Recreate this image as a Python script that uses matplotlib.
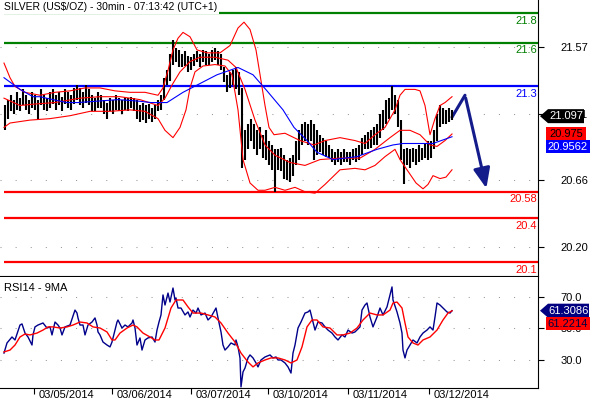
import numpy as np
import matplotlib
matplotlib.use('Agg')
import matplotlib.pyplot as plt
from matplotlib.patches import Polygon
from matplotlib.transforms import IdentityTransform, ScaledTranslation

plt.rcParams['font.family'] = ['Liberation Sans', 'DejaVu Sans']

# time axis: one unit ~ 18 minutes, day ticks where the dates are printed
day_pos = [34, 112, 191, 268, 348, 429]
day_labels = ['03/05/2014', '03/06/2014', '03/07/2014', '03/10/2014', '03/11/2014', '03/12/2014']

# price bars (high / low)
bar_t = np.arange(5, 453, 3)
bar_high = [21.17, 21.21, 21.24, 21.21, 21.26, 21.22, 21.28, 21.24, 21.21, 21.26,
            21.24, 21.21, 21.28, 21.24, 21.22, 21.26, 21.28, 21.24, 21.26, 21.23,
            21.28, 21.26, 21.24, 21.29, 21.31, 21.29, 21.26, 21.31, 21.28, 21.24,
            21.22, 21.26, 21.24, 21.21, 21.19, 21.22, 21.21, 21.24, 21.22, 21.21,
            21.23, 21.22, 21.23, 21.22, 21.21, 21.17, 21.19, 21.17, 21.18, 21.15,
            21.17, 21.21, 21.24, 21.36, 21.41, 21.52, 21.62, 21.56, 21.55, 21.52,
            21.54, 21.51, 21.50, 21.52, 21.54, 21.52, 21.55, 21.54, 21.52, 21.55,
            21.56, 21.54, 21.52, 21.43, 21.38, 21.40, 21.41, 21.43, 21.40, 21.29,
            21.00, 21.04, 21.08, 21.04, 21.00, 21.02, 20.97, 21.00, 20.93, 20.90,
            20.87, 20.87, 20.88, 20.83, 20.80, 20.81, 20.83, 20.93, 21.00, 21.04,
            21.06, 21.04, 21.07, 21.04, 21.00, 20.97, 20.95, 20.93, 20.90, 20.87,
            20.85, 20.87, 20.85, 20.87, 20.85, 20.85, 20.87, 20.88, 20.90, 20.95,
            20.97, 20.99, 21.00, 21.02, 21.04, 21.11, 21.14, 21.21, 21.22, 21.30,
            21.24, 21.21, 21.07, 20.87, 20.88, 20.87, 20.88, 20.87, 20.90, 20.88,
            20.91, 20.93, 20.93, 21.00, 21.11, 21.17, 21.15, 21.14, 21.15, 21.14]
bar_low = [21.00, 21.08, 21.13, 21.11, 21.14, 21.13, 21.17, 21.14, 21.11, 21.15,
           21.14, 21.08, 21.17, 21.14, 21.13, 21.15, 21.18, 21.14, 21.17, 21.13,
           21.18, 21.15, 21.14, 21.18, 21.21, 21.17, 21.15, 21.19, 21.17, 21.13,
           21.13, 21.15, 21.15, 21.11, 21.08, 21.13, 21.11, 21.14, 21.13, 21.11,
           21.14, 21.13, 21.15, 21.13, 21.08, 21.06, 21.07, 21.05, 21.08, 21.06,
           21.08, 21.13, 21.14, 21.21, 21.31, 21.34, 21.45, 21.47, 21.43, 21.43,
           21.44, 21.40, 21.41, 21.44, 21.47, 21.43, 21.47, 21.45, 21.45, 21.47,
           21.48, 21.45, 21.41, 21.33, 21.26, 21.29, 21.31, 21.28, 21.24, 20.74,
           20.80, 20.87, 20.93, 20.87, 20.83, 20.87, 20.81, 20.80, 20.76, 20.73,
           20.58, 20.73, 20.72, 20.67, 20.66, 20.65, 20.69, 20.76, 20.80, 20.90,
           20.93, 20.90, 20.93, 20.80, 20.83, 20.85, 20.83, 20.82, 20.81, 20.78,
           20.76, 20.78, 20.76, 20.78, 20.78, 20.76, 20.80, 20.78, 20.80, 20.83,
           20.87, 20.87, 20.88, 20.90, 20.90, 20.95, 21.00, 21.04, 21.08, 21.14,
           21.11, 21.02, 20.80, 20.63, 20.76, 20.74, 20.78, 20.76, 20.78, 20.80,
           20.81, 20.80, 20.81, 20.87, 20.93, 21.02, 21.04, 21.04, 21.06, 21.07]

# bollinger bands
up_t = [4, 10, 15, 25, 40, 55, 70, 85, 100, 115, 130, 145, 158, 163, 168, 173, 178, 183, 190, 197,
        207, 220, 230, 238, 244, 250, 256, 261, 265, 269, 274, 285, 300, 314, 325, 340, 355, 365,
        375, 385, 395, 400, 405, 415, 420, 425, 430, 435, 440, 445, 452]
up_v = [21.46, 21.36, 21.30, 21.26, 21.24, 21.26, 21.27, 21.29, 21.29, 21.27, 21.26, 21.26, 21.24,
        21.29, 21.41, 21.55, 21.63, 21.67, 21.64, 21.55, 21.53, 21.53, 21.58, 21.70, 21.74, 21.69,
        21.55, 21.34, 21.17, 21.02, 20.97, 20.98, 20.93, 20.90, 20.93, 20.95, 20.93, 20.91, 20.97,
        21.02, 21.14, 21.24, 21.28, 21.28, 21.27, 21.17, 20.97, 21.08, 21.17, 21.19, 21.23]
mid_t = [4, 20, 35, 55, 80, 100, 120, 140, 158, 165, 172, 180, 190, 200, 215, 228, 236, 245, 255,
         265, 275, 290, 305, 320, 340, 360, 375, 390, 400, 410, 420, 430, 437, 445, 452]
mid_v = [21.22, 21.17, 21.18, 21.19, 21.22, 21.23, 21.23, 21.21, 21.17, 21.22, 21.31, 21.40, 21.47,
         21.50, 21.50, 21.48, 21.43, 21.28, 21.07, 20.90, 20.83, 20.78, 20.76, 20.80, 20.81, 20.81,
         20.87, 20.95, 21.00, 21.00, 20.97, 20.90, 20.89, 20.93, 20.975]
lo_t = [4, 10, 30, 50, 70, 90, 110, 130, 145, 158, 165, 173, 180, 186, 190, 195, 203, 215, 225, 232,
        238, 243, 250, 258, 265, 275, 285, 295, 305, 315, 325, 340, 355, 365, 375, 385, 395, 400,
        408, 416, 423, 428, 433, 440, 446, 452]
lo_v = [21.02, 21.05, 21.07, 21.08, 21.10, 21.13, 21.13, 21.14, 21.13, 21.08, 21.00, 20.95, 21.02,
        21.14, 21.29, 21.40, 21.44, 21.45, 21.44, 21.38, 21.14, 20.80, 20.64, 20.59, 20.59, 20.61,
        20.59, 20.61, 20.58, 20.57, 20.63, 20.73, 20.74, 20.73, 20.76, 20.82, 20.87, 20.80, 20.72,
        20.64, 20.60, 20.63, 20.69, 20.67, 20.68, 20.73]

# moving average (blue)
ma_t = [4, 20, 33, 40, 53, 67, 78, 98, 118, 138, 151, 167, 183, 200, 217, 238, 253, 267, 283, 294,
        307, 317, 333, 357, 377, 393, 403, 433, 452]
ma_v = [21.36, 21.28, 21.23, 21.23, 21.21, 21.19, 21.19, 21.20, 21.21, 21.20, 21.19, 21.19, 21.26,
        21.32, 21.38, 21.43, 21.38, 21.27, 21.14, 21.02, 20.93, 20.85, 20.80, 20.82, 20.87, 20.90,
        20.91, 20.91, 20.9562]

# support / resistance levels
levels = [21.8, 21.6, 21.3, 20.58, 20.4, 20.1]
level_labels = ['21.8', '21.6', '21.3', '20.58', '20.4', '20.1']
level_colors = ['#008000', '#008000', '#0000ff', '#ff0000', '#ff0000', '#ff0000']

# forecast arrow
arrow_t = [452, 465, 487]
arrow_p = [21.09, 21.24, 20.585]

price_ticks = [20.205, 20.66, 21.115, 21.57]
price_tick_labels = ['20.20', '20.66', '21.11', '21.57']

# RSI 14 and its 9 period MA
rsi_t = [4, 7, 12, 15, 20, 22, 25, 28, 32, 33, 35, 38, 43, 47, 50, 52, 55, 58, 60, 62,
         65, 70, 75, 77, 78, 80, 83, 85, 88, 92, 95, 97, 98, 100, 103, 107, 110, 112, 117, 118,
         122, 125, 128, 132, 133, 135, 137, 140, 142, 145, 148, 152, 155, 157, 159, 161, 163, 165, 168, 170,
         173, 175, 176, 178, 181, 185, 188, 190, 193, 196, 198, 201, 205, 208, 211, 216, 218, 221, 223, 225,
         228, 231, 235, 236, 238, 240, 241, 243, 245, 248, 250, 253, 256, 258, 261, 265, 270, 273, 276, 278,
         281, 285, 288, 291, 293, 295, 298, 301, 305, 308, 310, 312, 315, 318, 322, 325, 328, 332, 335, 338,
         342, 345, 348, 352, 355, 360, 362, 365, 367, 370, 373, 377, 380, 383, 387, 390, 392, 393, 397, 400,
         402, 403, 405, 407, 410, 413, 417, 420, 423, 427, 430, 433, 435, 437, 440, 443, 447, 450, 452]
rsi_v = [34.4, 40.8, 44.6, 42.7, 52.2, 52.9, 47.1, 44.6, 39.5, 45.9, 51.0, 52.2, 53.5, 50.3, 51.0, 45.9, 54.1, 52.2, 50.3, 45.9,
         51.0, 52.2, 61.7, 59.8, 56.7, 52.2, 52.2, 45.9, 52.2, 54.1, 56.7, 52.2, 47.8, 45.9, 41.4, 39.5, 38.3, 41.4, 54.1, 55.4,
         50.3, 52.2, 51.0, 53.5, 55.4, 50.3, 39.5, 44.0, 36.3, 42.7, 44.0, 44.6, 41.4, 49.0, 54.1, 58.6, 71.3, 64.9, 72.5, 66.8,
         75.7, 68.1, 69.4, 63.0, 63.0, 58.6, 60.5, 57.3, 61.7, 59.8, 63.0, 58.6, 59.8, 55.4, 57.3, 63.0, 56.7, 47.8, 39.5, 36.3,
         38.3, 40.8, 39.5, 42.7, 38.3, 31.3, 12.9, 22.4, 24.9, 31.3, 33.2, 31.3, 28.1, 25.6, 30.0, 31.9, 33.2, 31.3, 31.9, 30.0,
         30.0, 28.1, 25.6, 21.7, 34.4, 39.5, 50.3, 54.1, 59.8, 60.5, 61.7, 56.7, 49.0, 54.1, 53.5, 51.0, 49.0, 47.1, 44.6, 42.7,
         45.9, 44.6, 49.0, 47.1, 47.8, 51.0, 61.7, 64.9, 66.2, 57.3, 51.0, 57.3, 63.0, 58.6, 63.7, 71.3, 76.4, 68.1, 60.5, 53.5,
         47.1, 36.3, 31.3, 36.3, 39.5, 42.7, 40.8, 44.6, 47.1, 49.0, 51.0, 49.0, 57.3, 66.2, 64.9, 63.0, 60.5, 59.8, 61.3086]
rsi_ma_t = [4, 10, 15, 20, 25, 30, 37, 43, 48, 53, 60, 67, 73, 80, 87, 93, 100, 107, 112, 115,
            120, 127, 133, 137, 143, 150, 155, 159, 165, 171, 176, 183, 188, 193, 201, 208, 215, 221, 228, 235,
            241, 248, 253, 258, 265, 271, 278, 285, 291, 297, 302, 307, 312, 317, 323, 330, 337, 343, 350, 357,
            363, 370, 377, 383, 390, 393, 397, 402, 405, 408, 413, 418, 423, 430, 437, 443, 448, 452]
rsi_ma_v = [35.1, 36.3, 39.5, 44.6, 46.5, 45.9, 47.1, 49.0, 51.0, 51.0, 50.3, 51.0, 52.2, 54.1, 53.5, 51.0, 50.3, 47.8, 42.7, 42.7,
            47.1, 50.3, 52.2, 51.0, 47.1, 44.6, 42.7, 42.7, 50.3, 63.0, 68.1, 68.1, 63.7, 59.8, 59.8, 58.6, 57.3, 53.5, 47.1, 41.4,
            34.4, 28.7, 25.6, 28.1, 30.0, 31.3, 31.3, 30.0, 28.1, 30.0, 38.3, 51.0, 55.4, 55.4, 51.0, 50.3, 45.9, 45.9, 47.1, 50.3,
            55.4, 59.8, 58.6, 58.6, 61.7, 66.2, 66.8, 63.0, 53.5, 44.6, 40.8, 39.5, 42.7, 44.6, 49.0, 55.4, 59.8, 61.2214]
rsi_ticks = [30, 50, 70]
rsi_tick_labels = ['30.0', '50.0', '70.0']

navy = '#141c8c'

fig = plt.figure(figsize=(5.9, 4), dpi=100)
ax = fig.add_axes([0, 124 / 400, 538 / 590, 276 / 400])
ax2 = fig.add_axes([0, 12 / 400, 538 / 590, 111 / 400])

for a in (ax, ax2):
    a.set_xlim(0, 538)
    a.spines['left'].set_visible(False)
    a.spines['top'].set_visible(False)
    a.yaxis.tick_right()
    a.tick_params(axis='y', length=4, pad=12, labelsize=8, width=0.8)
    a.grid(axis='y', linestyle=(0, (1, 13.5)), color='#999999', linewidth=0.75)
    a.set_axisbelow(True)

ax.set_ylim(20.0036, 21.8915)
ax.set_xticks([])
ax.set_yticks(price_ticks)
ax.set_yticklabels(price_tick_labels)

# level lines
for lv, lb, c in zip(levels, level_labels, level_colors):
    ax.hlines(lv, 4, 538, color=c, lw=1.6, zorder=2)
    ax.annotate(lb, xy=(537, lv), xytext=(0, -5.5), textcoords='offset points',
                ha='right', va='center', color=c, fontsize=8)

ax.vlines(bar_t, bar_low, bar_high, color='black', lw=1.5, zorder=3)
ax.plot(up_t, up_v, color='#ff0000', lw=0.8, zorder=4)
ax.plot(mid_t, mid_v, color='#ff0000', lw=0.8, zorder=4)
ax.plot(lo_t, lo_v, color='#ff0000', lw=0.8, zorder=4)
ax.plot(ma_t, ma_v, color='#0000ff', lw=0.8, zorder=4)

ax.plot(arrow_t[:2], arrow_p[:2], color=navy, lw=2.2, solid_capstyle='round')
ax.annotate('', xy=(arrow_t[2], arrow_p[2]), xytext=(arrow_t[1], arrow_p[1]),
            arrowprops=dict(arrowstyle='-|>,head_length=1.2,head_width=0.5', lw=2.2, color=navy))

ax.text(4, 21.842, 'SILVER (US$/OZ) - 30min - 07:13:42 (UTC+1)', fontsize=7.5, va='center', ha='left',
        bbox=dict(facecolor='white', edgecolor='none', pad=1.5), zorder=5)

ax2.set_ylim(12.2, 82.7)
ax2.set_yticks(rsi_ticks)
ax2.set_yticklabels(rsi_tick_labels)
ax2.plot(rsi_t, rsi_v, color='#00008b', lw=1.0)
ax2.plot(rsi_ma_t, rsi_ma_v, color='#ff0000', lw=1.0)
ax2.text(4, 75.5, 'RSI14 - 9MA', fontsize=8, va='center', ha='left')
ax2.set_xticks(day_pos)
ax2.set_xticklabels(day_labels, fontsize=8)
ax2.tick_params(axis='x', length=4, pad=0.5, width=0.8)
for lab in ax2.get_xticklabels():
    lab.set_horizontalalignment('left')
    lab.set_transform(lab.get_transform() + ScaledTranslation(3 / 72, 3 / 72, fig.dpi_scale_trans))


def tags(a, items):
    # last-value tags on the right, stacked downward so they do not overlap
    prev = None
    for val, text, fc, tc, arrow, right in items:
        y = a.transData.transform((0, val))[1]
        if prev is not None and y > prev - 13:
            y = prev - 13
        prev = y
        if arrow:
            pts = [(540, y), (548, y + 7), (right, y + 7), (right, y - 7), (548, y - 7)]
            cx = (548 + right) / 2
        else:
            pts = [(546, y + 6.5), (right, y + 6.5), (right, y - 6.5), (546, y - 6.5)]
            cx = (546 + right) / 2
        fig.add_artist(Polygon(pts, closed=True, transform=IdentityTransform(), facecolor=fc,
                               edgecolor='none', zorder=10))
        fig.text(cx / 590, y / 400, text, color=tc, fontsize=8, ha='center', va='center', zorder=11)


fig.canvas.draw()
tags(ax, [(21.097, '21.097', 'black', 'white', True, 584),
          (20.975, '20.975', '#ff0000', 'black', False, 586),
          (20.9562, '20.9562', '#0000ff', 'white', False, 590)])
tags(ax2, [(61.3086, '61.3086', '#000080', 'white', True, 589),
           (61.2214, '61.2214', '#ff0000', '#000040', False, 590)])

fig.savefig('out.png', dpi=100)
